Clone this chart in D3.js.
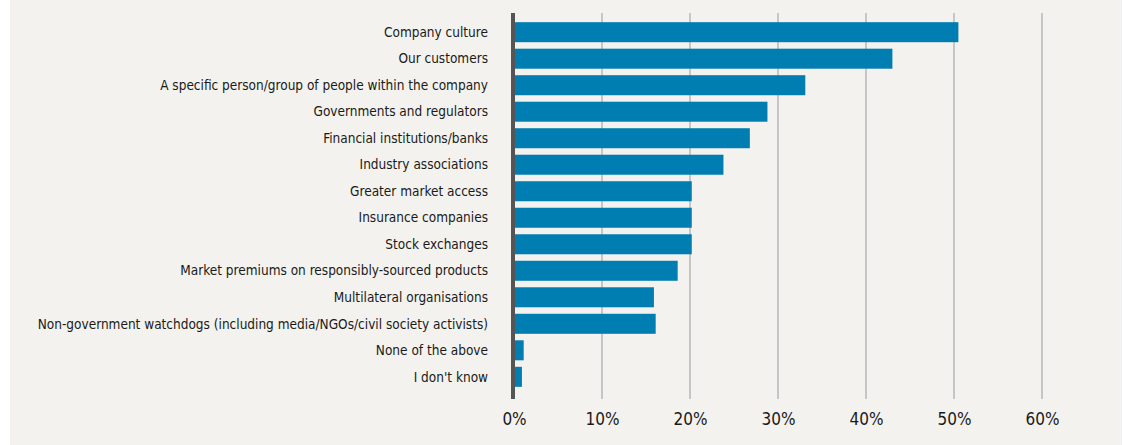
<!DOCTYPE html>
<html>
<head>
<meta charset="utf-8">
<script src="https://cdn.jsdelivr.net/npm/d3@7"></script>
<style>
  body { margin: 0; background: #ffffff; }
  svg { display: block; }
</style>
</head>
<body>
<div id="chart"></div>
<script>
// data
const categories = [
  "Company culture",
  "Our customers",
  "A specific person/group of people within the company",
  "Governments and regulators",
  "Financial institutions/banks",
  "Industry associations",
  "Greater market access",
  "Insurance companies",
  "Stock exchanges",
  "Market premiums on responsibly-sourced products",
  "Multilateral organisations",
  "Non-government watchdogs (including media/NGOs/civil society activists)",
  "None of the above",
  "I don't know"
];
const shares = [50.5, 43.0, 33.1, 28.8, 26.8, 23.8, 20.2, 20.2, 20.2, 18.6, 15.9, 16.1, 1.1, 0.9];
const tickValues = [0, 10, 20, 30, 40, 50, 60];

const W = 1124, H = 445;

const svg = d3.select('#chart')
  .append('svg')
  .attr('width', W)
  .attr('height', H);

// panel background
svg.append('rect')
  .attr('x', 10).attr('y', 0)
  .attr('width', 1112).attr('height', H)
  .attr('fill', '#f3f2ee');

const x = d3.scaleLinear()
  .domain([0, 60])
  .range([514, 1042]);

const y = d3.scaleBand()
  .domain(categories)
  .range([19, 390])
  .paddingInner(0.245)
  .paddingOuter(0.12);

// gridlines
svg.append('g')
  .selectAll('line')
  .data(tickValues.filter(d => d > 0))
  .join('line')
  .attr('x1', d => x(d)).attr('x2', d => x(d))
  .attr('y1', 13).attr('y2', 399)
  .attr('stroke', '#c6c6c6')
  .attr('stroke-width', 2);

// bars
svg.append('g')
  .selectAll('rect')
  .data(shares)
  .join('rect')
  .attr('x', x(0))
  .attr('y', (d, i) => y(categories[i]))
  .attr('width', d => x(d) - x(0))
  .attr('height', y.bandwidth())
  .attr('fill', '#007eb1');

// vertical axis line
svg.append('line')
  .attr('x1', x(0) - 1).attr('x2', x(0) - 1)
  .attr('y1', 13).attr('y2', 399)
  .attr('stroke', '#555555')
  .attr('stroke-width', 4);

// category labels
svg.append('g')
  .selectAll('text')
  .data(categories)
  .join('text')
  .attr('x', 488)
  .attr('y', d => y(d) + y.bandwidth() / 2)
  .attr('dy', '0.35em')
  .attr('text-anchor', 'end')
  .style('font-family', '"DejaVu Sans Condensed", "DejaVu Sans", sans-serif')
  .style('font-size', '13.5px')
  .style('fill', '#1a1a1a')
  .text(d => d);

// x tick labels
const xAxis = d3.axisBottom(x)
  .tickValues(tickValues)
  .tickSize(0)
  .tickFormat(d => d + '%');

svg.append('g')
  .attr('transform', 'translate(0, 410)')
  .call(xAxis)
  .call(g => g.select('.domain').remove())
  .selectAll('text')
  .style('font-family', '"DejaVu Sans Condensed", "DejaVu Sans", sans-serif')
  .style('font-size', '17px')
  .style('fill', '#1a1a1a');
</script>
</body>
</html>
